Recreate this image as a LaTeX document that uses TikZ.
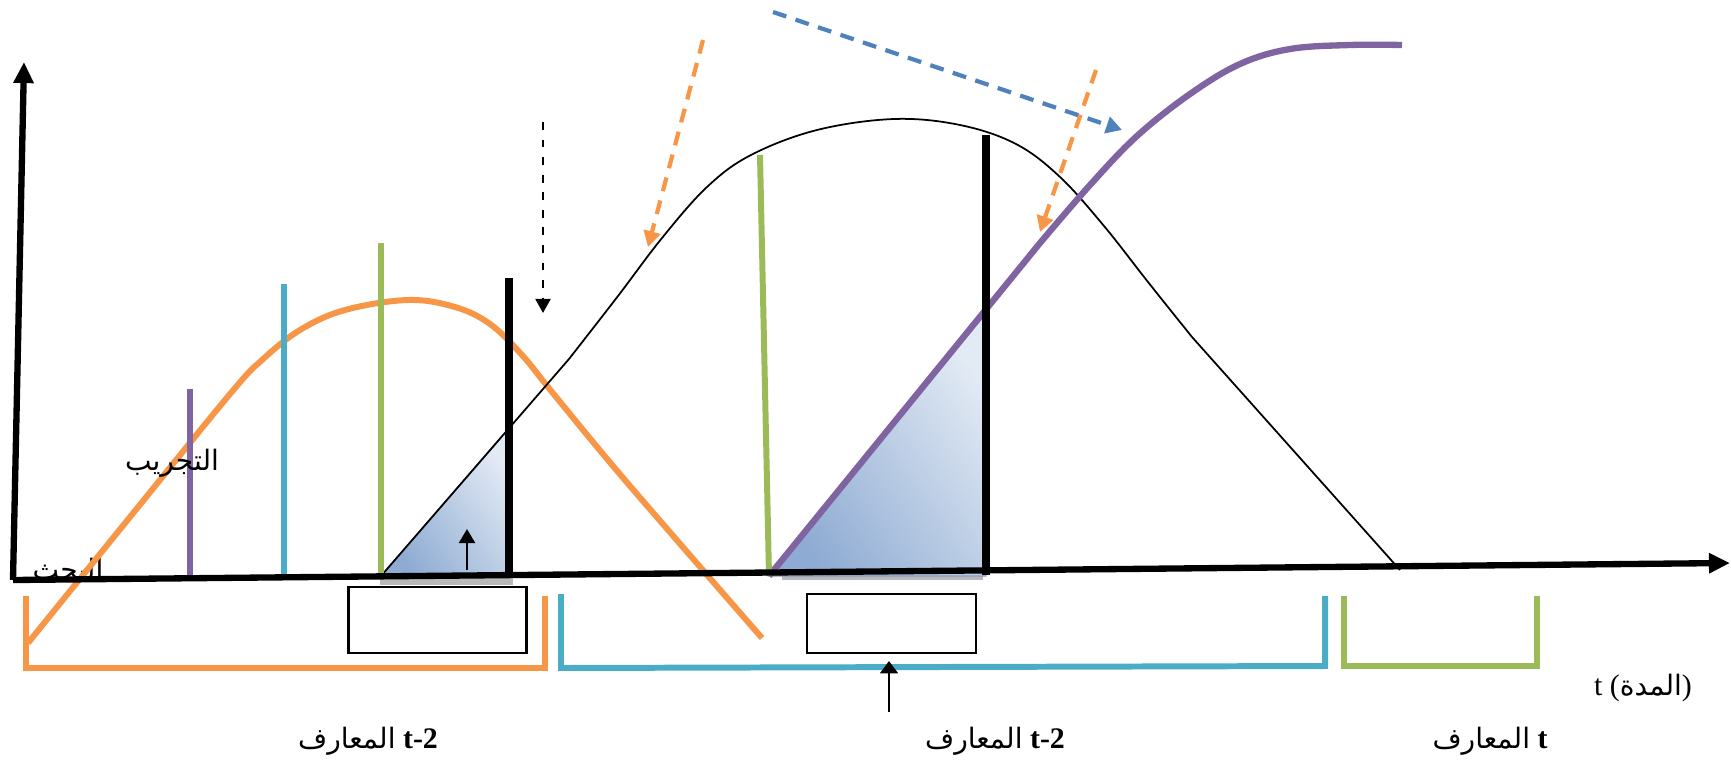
\documentclass[tikz,border=0pt]{standalone}
\usepackage{fontspec}
\setmainfont{Liberation Serif}
\newfontfamily\arabicfont[Script=Arabic]{DejaVu Sans}
\TeXXeTstate=1
\usepackage{tikz}
\usetikzlibrary{arrows.meta,positioning,calc}
\definecolor{curveorange}{HTML}{F79646}
\definecolor{curvecyan}{HTML}{4BACC6}
\definecolor{curvegreen}{HTML}{9BBB59}
\definecolor{curvepurple}{HTML}{8064A2}
\definecolor{arrowblue}{HTML}{4F81BD}
\definecolor{shadedark}{HTML}{8EABD3}
\definecolor{shadelight}{HTML}{E2EAF4}
\newcommand{\ar}[1]{{\arabicfont\fontsize{16}{18}\selectfont\beginR #1\endR}}

\begin{document}
\begin{tikzpicture}[
    x=0.02cm, y=-0.02cm,
    font=\fontsize{17}{19}\selectfont,
    axis/.style={line width=3.6pt, -{Triangle[length=12pt,width=11pt]}},
    bar/.style={line width=3.4pt},
    blackbar/.style={line width=4pt, black},
    bracket/.style={line width=3.4pt},
    gapbox/.style={
        draw,
        line width=1.2pt,
        inner sep=0pt
    },
    dasharr/.style={line width=2.4pt, dash pattern=on 8pt off 5.5pt,
        -{Triangle[length=9pt,width=9.5pt]}},
    wedge/.style={draw=shadedark!70!gray, line width=0.8pt,
        top color=shadedark, bottom color=shadelight, shading angle=125},
    label/.style={inner sep=1pt}
]
\useasboundingbox (0,0) rectangle (1731,764);

% hidden label under the axis
\begin{scope}
\clip (0,0) rectangle (200,578);
\node[label] (search) at (68,571) {\ar{البحث}};
\end{scope}

% shaded wedges and their shadows
\fill[gray!55] (380,578) rectangle (513,585);
\fill[gray!55] (782,574) rectangle (983,580);
\shade[wedge] (381,576) -- (509,428) -- (509,576) -- cycle;
\shade[wedge] (769,576) -- (986,309) -- (986,576) -- cycle;

% orange curve
\draw[curveorange, line width=3.4pt, line join=round]
    plot[smooth, tension=0.6] coordinates {(28,643) (130,517) (230,394) (262,360)
    (300,330) (345,310) (408,300) (455,307) (490,324) (522,355) (552,392)
    (613,466) (688,553) (762,638)};

% thin black curve
\draw[black, line width=1pt] (381,576) -- (569,359)
    -- plot[smooth, tension=0.6] coordinates {(569,359) (618,296) (662,238)
    (707,187) (751,155) (817,130) (894,119) (960,125) (1016,144) (1060,177)
    (1104,226) (1148,282) (1192,337)} -- (1400,570);

% purple curve
\draw[curvepurple, line width=3.6pt] (769,576) -- (1040,243)
    -- plot[smooth, tension=0.6] coordinates {(1040,243) (1090,185) (1137,136)
    (1190,94) (1240,64) (1290,49) (1350,45) (1402,45)};

% vertical bars
\draw[bar, curvepurple] (190,577) -- (190,389);
\draw[bar, curvecyan] (284,577) -- (284,284);
\draw[bar, curvegreen] (381,576) -- (381,243);
\draw[blackbar] (509,576) -- (509,278);
\draw[bar, curvegreen] (769,576) -- (760,155);
\draw[blackbar] (986,575) -- (986,135);

% axes
\coordinate (origin) at (13,580);
\coordinate (ytip) at (24,62);
\coordinate (xtip) at (1730,563);
\draw[axis] (origin) -- (ytip);
\draw[axis] (origin) -- (xtip);

% boxes
\node[gapbox, minimum width=3.56cm, minimum height=1.32cm] (boxa) at (437.5,620) {};
\node[gapbox, minimum width=3.38cm, minimum height=1.18cm] (boxb) at (891.5,623.5) {};

% brackets
\draw[bracket, curveorange] (26,596) -- (26,668) -- (545,668) -- (545,596);
\draw[bracket, curvecyan] (561,594) -- (561,668) -- (1325,666) -- (1325,596);
\draw[bracket, curvegreen] (1344,596) -- (1344,666) -- (1537,666) -- (1537,596);

% small arrows
\coordinate (taila) at (467,570);
\coordinate (tipa) at (467,529);
\draw[line width=1.6pt, -{Triangle[length=8pt,width=9pt]}] (taila) -- (tipa);
\coordinate (tailb) at (889,712);
\coordinate (tipb) at (889,661);
\draw[line width=1.6pt, -{Triangle[length=7pt,width=10pt]}] (tailb) -- (tipb);

% dashed arrows
\coordinate (dropa) at (543,122);
\coordinate (dropb) at (543,313);
\draw[black, line width=1.3pt, dash pattern=on 4.5pt off 5.5pt,
    -{Triangle[length=8pt,width=8.5pt]}] (dropa) -- (dropb);
\coordinate (ora) at (703,40);
\coordinate (orb) at (648,247);
\draw[dasharr, curveorange] (ora) -- (orb);
\coordinate (bla) at (773,12);
\coordinate (blb) at (1122,130);
\draw[dasharr, arrowblue] (bla) -- (blb);
\coordinate (orc) at (1096,70);
\coordinate (ord) at (1040,232);
\draw[dasharr, curveorange] (orc) -- (ord);

% labels
\node[label] (trial) at (172,463) {\ar{التجريب}};
\node[label] (knowa) at (368,741) {\ar{المعارف}\ \textbf{t-2}};
\node[label] (knowb) at (995,741) {\ar{المعارف}\ \textbf{t-2}};
\node[label] (knowc) at (1490,741) {\ar{المعارف}\ \textbf{t}};
\node[label] (period) at (1643,688) {t (\ar{المدة})};

\end{tikzpicture}
\end{document}
